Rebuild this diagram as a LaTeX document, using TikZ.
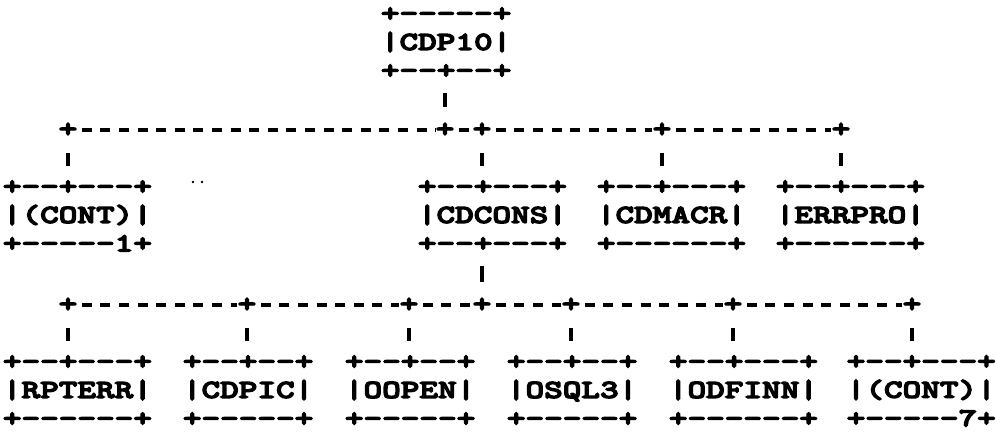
\documentclass[tikz,border=0pt]{standalone}
\usepackage{fontspec}
\newfontfamily\asciifont[FakeStretch=1.365,FakeBold=5,Ligatures=TeXOff]{lmmonolt10-bold.otf}

\begin{document}
\begin{tikzpicture}[x=1pt, y=-1pt,
        box/.style={anchor=west,inner sep=0pt,align=left,font=\asciifont\fontsize{26}{28.5}\selectfont},
        joint/.style={inner sep=0pt,font=\asciifont\fontsize{26}{28.5}\selectfont},
        bus/.style={line width=3.8pt,dash pattern=on 10pt off 8.6pt,dash phase=14.3pt},
        riser/.style={line width=3.8pt,shorten <=23pt,shorten >=50pt}
    ]
        \useasboundingbox (0,0) rectangle (996,440);

        % Define the boxes
        \node[box] (cdp10) at (380.7,43) {+-----+\\|CDP10|\\+--+--+};

        \node[box] (cont1) at (2.7,216) {+--+---+\\|(CONT)|\\+-----1+};
        \node[box] (cdcons) at (417.7,216) {+--+---+\\|CDCONS|\\+--+---+};
        \node[box] (cdmacr) at (596.7,216) {+--+---+\\|CDMACR|\\+------+};
        \node[box] (errpro) at (775.7,216) {+--+---+\\|ERRPRO|\\+------+};

        \node[box] (rpterr) at (2.7,391) {+--+---+\\|RPTERR|\\+------+};
        \node[box] (cdpic) at (182.7,391) {+--+--+\\|CDPIC|\\+-----+};
        \node[box] (oopen) at (344.7,391) {+--+--+\\|OOPEN|\\+-----+};
        \node[box] (osql3) at (506.7,391) {+--+--+\\|OSQL3|\\+-----+};
        \node[box] (odfinn) at (668.7,391) {+--+---+\\|ODFINN|\\+------+};
        \node[box] (cont7) at (846.5,391) {+--+---+\\|(CONT)|\\+-----7+};

        % Define the joints
        \node[joint] (ja) at (68,130) {+};
        \node[joint] (jb) at (445,130) {+};
        \node[joint] (jc) at (482,130) {+};
        \node[joint] (jd) at (662,130) {+};
        \node[joint] (je) at (841,130) {+};

        \node[joint] (ka) at (68,305) {+};
        \node[joint] (kb) at (247,305) {+};
        \node[joint] (kc) at (409,305) {+};
        \node[joint] (kd) at (482,305) {+};
        \node[joint] (ke) at (571,305) {+};
        \node[joint] (kf) at (733,305) {+};
        \node[joint] (kg) at (912,305) {+};

        % Buses
        \foreach \a/\b in {ja/jb,jb/jc,jc/jd,jd/je,ka/kb,kb/kc,kc/kd,kd/ke,ke/kf,kf/kg}
            \draw[bus] (\a) -- (\b);

        % Risers
        \draw[riser] (jb.center) -- (jb.center |- cdp10.center);
        \draw[riser] (kd.center) -- (kd.center |- cdcons.center);
        \foreach \j/\b in {ja/cont1,jc/cdcons,jd/cdmacr,je/errpro,ka/rpterr,kb/cdpic,kc/oopen,ke/osql3,kf/odfinn,kg/cont7}
            \draw[riser] (\j.center) -- (\j.center |- \b.center);

        \fill (193,182) circle (1.3pt) (202,182) circle (1.3pt);
    \end{tikzpicture}
\end{document}
